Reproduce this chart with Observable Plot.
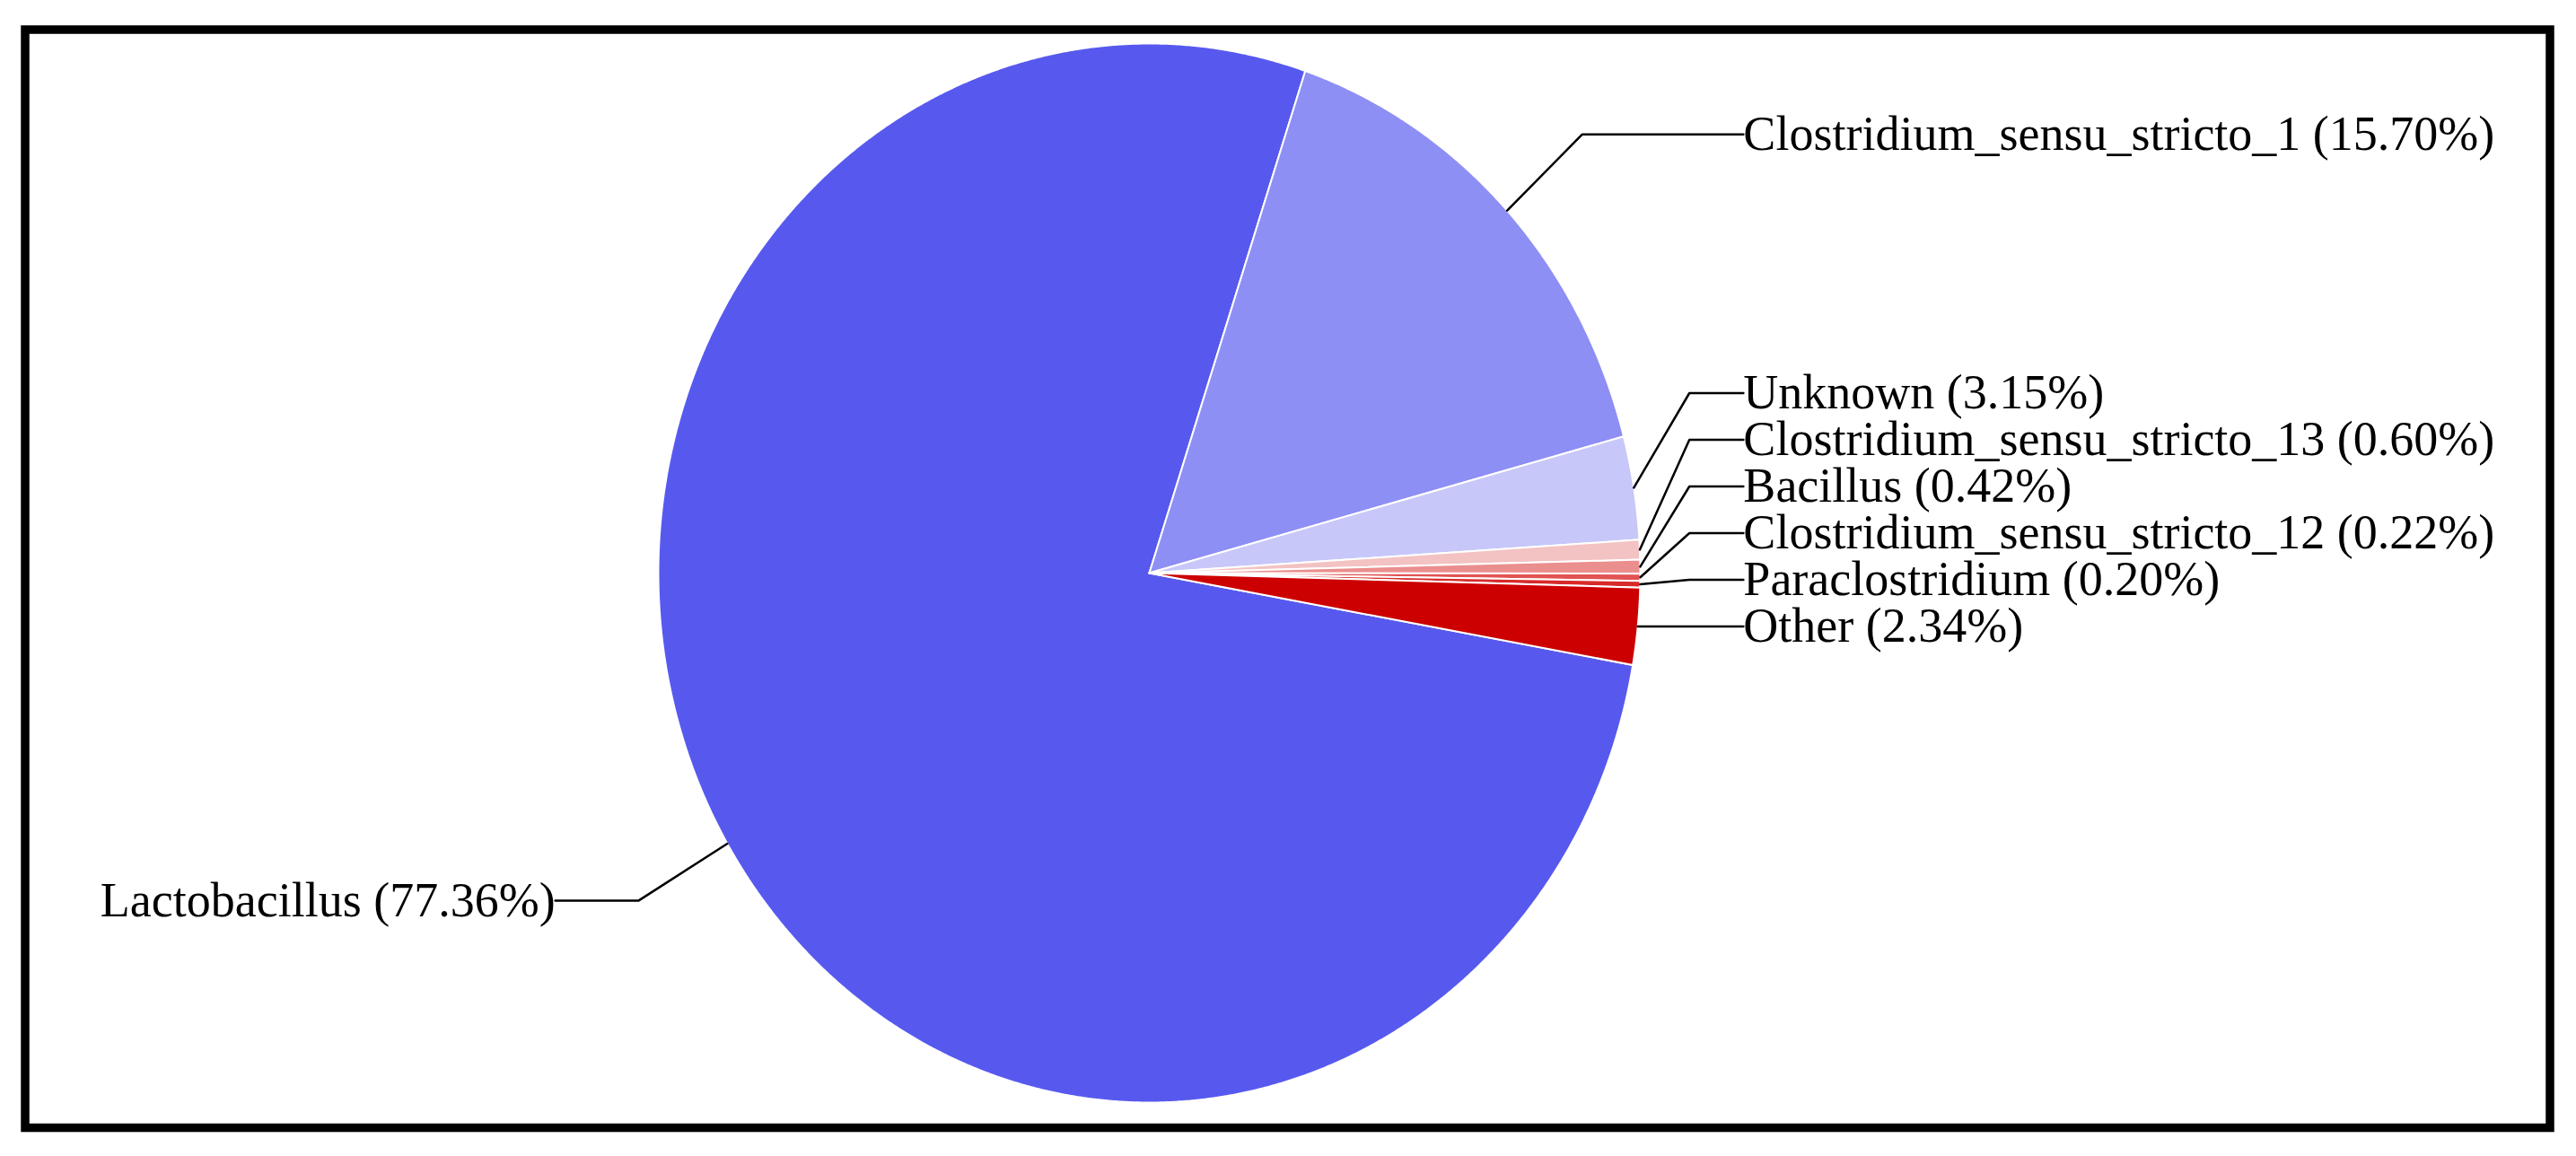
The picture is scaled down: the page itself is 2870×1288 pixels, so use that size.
<!DOCTYPE html>
<html>
<head>
<meta charset="utf-8">
<script src="https://cdn.jsdelivr.net/npm/d3@7"></script>
<script src="https://cdn.jsdelivr.net/npm/@observablehq/plot@0.6"></script>
<style>
  html, body { margin: 0; padding: 0; background: #fff; }
  #chart svg { display: block; }
</style>
</head>
<body>
<div id="chart"></div>
<script>
// ---- data ----
const genera = [
  "Lactobacillus",
  "Clostridium_sensu_stricto_1",
  "Unknown",
  "Clostridium_sensu_stricto_13",
  "Bacillus",
  "Clostridium_sensu_stricto_12",
  "Paraclostridium",
  "Other"
];
const percents = [77.36, 15.70, 3.15, 0.60, 0.42, 0.22, 0.20, 2.34];
const palette = ["#5759EE", "#8E8FF5", "#C7C7F9", "#F3C2C2", "#EB8E8E", "#E25353", "#D82A2A", "#CC0000"];

// ---- layout constants ----
const W = 2870, H = 1288;
const CX = 1280, CY = 638, RX = 547, RY = 590;   // pie centre / radii in pixels
const START = 100;            // start angle, degrees clockwise from 12 o'clock
const K = 1.21;               // radial distance of leader-line elbow
const TEXT_X = 1.21;          // label alignment (in radius units)
const SEG = 0.11;             // minimal horizontal leader segment
const GAP = 52 / RY;          // min vertical gap between labels

const rad = d => d * Math.PI / 180;
const total = d3.sum(percents);
let acc = 0;
const slices = genera.map((name, i) => {
  const a0 = START + acc / total * 360;
  acc += percents[i];
  const a1 = START + acc / total * 360;
  return {name, pct: percents[i], a0, a1, mid: (a0 + a1) / 2};
});

// polygons for the wedges
const wedges = slices.flatMap(s => {
  const n = Math.max(2, Math.ceil((s.a1 - s.a0) / 0.25));
  const pts = [{name: s.name, x: 0, y: 0}];
  for (let k = 0; k <= n; k++) {
    const a = rad(s.a0 + (s.a1 - s.a0) * k / n);
    pts.push({name: s.name, x: Math.sin(a), y: Math.cos(a)});
  }
  pts.push({name: s.name, x: 0, y: 0});
  return pts;
});

// label layout
const labels = slices.map(s => {
  const a = rad(s.mid);
  return {
    ...s,
    side: Math.sin(a) >= 0 ? 1 : -1,
    ex: Math.sin(a), ey: Math.cos(a),
    nx: K * Math.sin(a), ny: K * Math.cos(a),
    text: `${s.name} (${s.pct.toFixed(2)}%)`
  };
});
function sweep(grp, bottomY) {
  let pushed = false;
  for (let i = grp.length - 1; i >= 0; i--) {
    const l = grp[i];
    l.ly = (i === grp.length - 1) ? bottomY : Math.max(l.ny, grp[i + 1].ly + GAP);
    if (l.ly > l.ny + 1e-9) pushed = true;
  }
  return pushed;
}
for (const side of [1, -1]) {
  const grp = labels.filter(l => l.side === side).sort((a, b) => b.ny - a.ny);
  const bottom = grp[grp.length - 1];
  // a crowded stack is anchored at the edge of its lowest slice
  if (sweep(grp, bottom.ny)) sweep(grp, bottom.ey);
  for (const l of grp) {
    l.kx = side * Math.min(Math.abs(l.nx), TEXT_X - SEG);
    l.tx = side * TEXT_X;
  }
}
const leaders = labels.flatMap(l => [
  {name: l.name, x: l.ex, y: l.ey},
  {name: l.name, x: l.kx, y: l.ly},
  {name: l.name, x: l.tx, y: l.ly}
]);

const chart = Plot.plot({
  width: W,
  height: H,
  margin: 0,
  style: {background: "#fff", fontFamily: "'Liberation Serif', 'Times New Roman', serif"},
  x: {domain: [-CX / RX, (W - CX) / RX], range: [0, W], axis: null},
  y: {domain: [-(H - CY) / RY, CY / RY], range: [H, 0], axis: null},
  color: {domain: genera, range: palette},
  marks: [
    Plot.line(wedges, {x: "x", y: "y", z: "name", fill: "name", stroke: "#fff", strokeWidth: 2, strokeLinejoin: "round", curve: "linear"}),
    Plot.line(leaders, {x: "x", y: "y", z: "name", stroke: "#000", strokeWidth: 2.5, curve: "linear"}),
    Plot.text(labels.filter(l => l.side > 0), {x: "tx", y: "ly", text: "text", textAnchor: "start", fontSize: 54, fontFamily: "Liberation Serif", fill: "#000"}),
    Plot.text(labels.filter(l => l.side < 0), {x: "tx", y: "ly", text: "text", textAnchor: "end", fontSize: 54, fontFamily: "Liberation Serif", fill: "#000"}),
    Plot.frame({stroke: "#000", strokeWidth: 9.5, insetLeft: 27.5, insetTop: 32.5, insetRight: 29.5, insetBottom: 32})
  ]
});
document.getElementById("chart").appendChild(chart);
</script>
</body>
</html>
